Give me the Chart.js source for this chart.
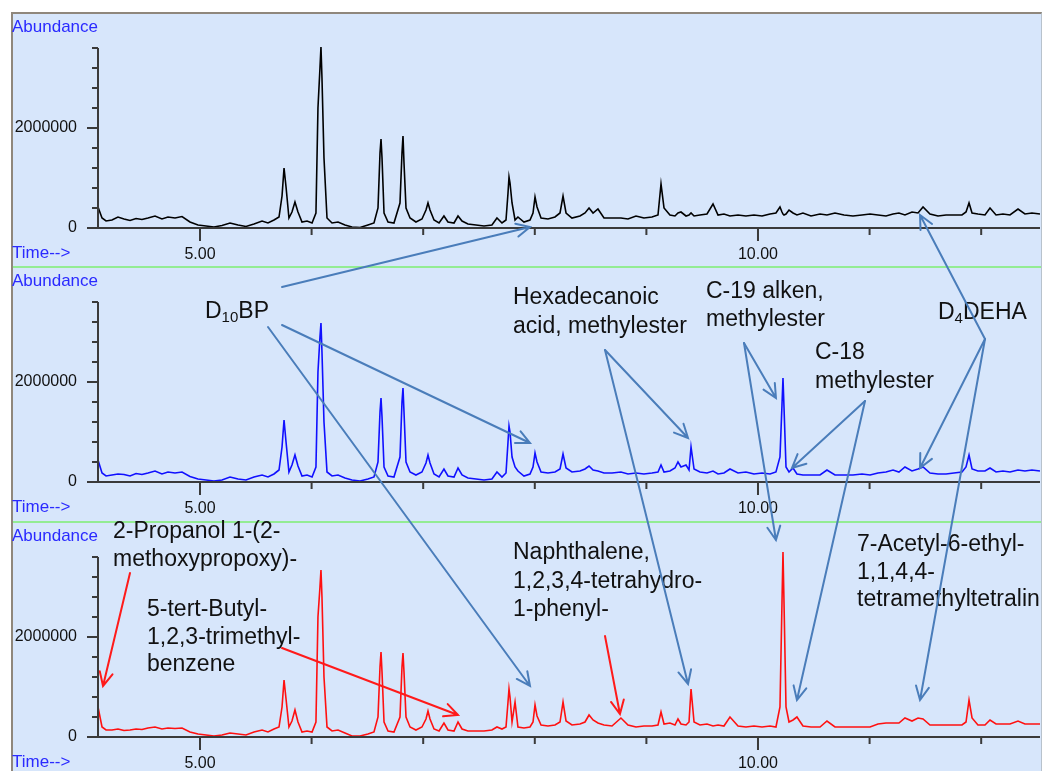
<!DOCTYPE html>
<html>
<head>
<meta charset="utf-8">
<script src="https://cdn.jsdelivr.net/npm/chart.js@4.4.1/dist/chart.umd.min.js"></script>
<style>
  body { margin: 0; background: #fff; }
  #wrap { position: relative; width: 1050px; height: 771px; overflow: hidden; }
  #bg { position: absolute; left: 11px; top: 12px; width: 1028px; height: 759px;
        background: #d7e6fb; border-top: 2px solid #8f877c; border-left: 2px solid #8f877c;
        border-right: 1px solid #b8c2cc; }
  .sep { position: absolute; left: 13px; width: 1028px; height: 2px; background: #93ec93; }
  canvas { position: absolute; left: 0; }
</style>
</head>
<body>
<div id="wrap">
  <div id="bg"></div>
  <div class="sep" style="top:266px"></div>
  <div class="sep" style="top:521px"></div>
  <canvas id="tic1" width="1050" height="268" style="top:0px"></canvas>
  <canvas id="tic2" width="1050" height="268" style="top:254px"></canvas>
  <canvas id="tic3" width="1050" height="268" style="top:509px"></canvas>
  <canvas id="notes" width="1050" height="771" style="top:0px"></canvas>
</div>
<script>
// --- chromatogram data (retention time in min, abundance) ---
const times = [
  4.086, 4.122, 4.158, 4.211, 4.265, 4.319, 4.373, 4.427, 4.480, 4.534,
  4.597, 4.659, 4.713, 4.776, 4.839, 4.910, 4.982, 5.054, 5.125, 5.197,
  5.269, 5.341, 5.412, 5.484, 5.556, 5.609, 5.663, 5.708, 5.735, 5.753,
  5.771, 5.797, 5.824, 5.851, 5.878, 5.914, 5.959, 6.004, 6.039, 6.057,
  6.075, 6.084, 6.093, 6.111, 6.138, 6.183, 6.237, 6.299, 6.362, 6.434,
  6.505, 6.559, 6.595, 6.613, 6.622, 6.631, 6.649, 6.685, 6.738, 6.792,
  6.810, 6.819, 6.828, 6.846, 6.882, 6.935, 6.989, 7.025, 7.043, 7.061,
  7.097, 7.142, 7.186, 7.222, 7.276, 7.312, 7.348, 7.401, 7.473, 7.545,
  7.616, 7.661, 7.706, 7.742, 7.760, 7.769, 7.778, 7.796, 7.823, 7.849,
  7.903, 7.957, 7.984, 8.002, 8.020, 8.056, 8.118, 8.181, 8.226, 8.253,
  8.280, 8.333, 8.405, 8.450, 8.486, 8.522, 8.566, 8.620, 8.692, 8.772,
  8.835, 8.907, 8.978, 9.050, 9.104, 9.131, 9.158, 9.211, 9.256, 9.283,
  9.310, 9.355, 9.382, 9.400, 9.427, 9.480, 9.543, 9.597, 9.642, 9.695,
  9.749, 9.821, 9.892, 9.964, 10.036, 10.108, 10.161, 10.197, 10.215, 10.224,
  10.233, 10.251, 10.278, 10.314, 10.349, 10.403, 10.475, 10.556, 10.618, 10.690,
  10.771, 10.851, 10.932, 11.004, 11.075, 11.147, 11.210, 11.263, 11.317, 11.380,
  11.434, 11.479, 11.541, 11.613, 11.685, 11.756, 11.828, 11.864, 11.891, 11.918,
  11.971, 12.034, 12.079, 12.133, 12.195, 12.258, 12.330, 12.392, 12.455, 12.527
];

const abundanceTop = [
  420000, 200000, 140000, 160000, 220000, 180000, 150000, 190000, 170000, 200000,
  240000, 180000, 220000, 200000, 230000, 120000, 60000, 40000, 20000, 50000,
  100000, 60000, 30000, 80000, 140000, 100000, 160000, 220000, 640000, 1200000,
  820000, 200000, 320000, 520000, 320000, 120000, 140000, 100000, 300000, 2400000,
  3200000, 3620000, 3000000, 1400000, 200000, 100000, 120000, 60000, 20000, 10000,
  60000, 100000, 400000, 1500000, 1780000, 1400000, 300000, 120000, 100000, 500000,
  1500000, 1840000, 1300000, 400000, 200000, 120000, 180000, 360000, 500000, 360000,
  160000, 100000, 240000, 120000, 100000, 240000, 140000, 80000, 60000, 40000,
  60000, 200000, 100000, 160000, 700000, 1020000, 900000, 500000, 160000, 220000,
  120000, 160000, 300000, 620000, 420000, 200000, 180000, 220000, 300000, 640000,
  300000, 200000, 240000, 300000, 400000, 300000, 380000, 200000, 200000, 200000,
  180000, 240000, 200000, 220000, 260000, 880000, 400000, 260000, 240000, 300000,
  320000, 240000, 260000, 300000, 240000, 260000, 280000, 480000, 260000, 280000,
  240000, 260000, 240000, 260000, 240000, 280000, 300000, 420000, 320000, 280000,
  260000, 280000, 360000, 300000, 260000, 300000, 240000, 280000, 260000, 300000,
  260000, 240000, 260000, 280000, 260000, 240000, 280000, 300000, 260000, 320000,
  300000, 420000, 280000, 240000, 260000, 260000, 260000, 320000, 500000, 300000,
  280000, 260000, 400000, 260000, 280000, 260000, 380000, 280000, 300000, 280000
];

const abundanceMid = [
  440000, 180000, 120000, 140000, 160000, 150000, 120000, 170000, 150000, 180000,
  220000, 160000, 200000, 180000, 200000, 110000, 60000, 40000, 20000, 40000,
  100000, 60000, 40000, 100000, 140000, 100000, 160000, 240000, 700000, 1240000,
  800000, 200000, 340000, 540000, 320000, 120000, 140000, 100000, 300000, 2200000,
  2900000, 3180000, 2600000, 1200000, 200000, 120000, 140000, 80000, 40000, 20000,
  60000, 100000, 400000, 1400000, 1680000, 1300000, 300000, 120000, 100000, 500000,
  1600000, 1880000, 1400000, 400000, 200000, 140000, 200000, 380000, 540000, 380000,
  160000, 100000, 260000, 120000, 100000, 280000, 140000, 80000, 60000, 40000,
  60000, 200000, 100000, 180000, 800000, 1120000, 1000000, 500000, 300000, 220000,
  120000, 160000, 300000, 580000, 400000, 200000, 180000, 200000, 260000, 560000,
  280000, 200000, 220000, 260000, 320000, 240000, 220000, 180000, 180000, 200000,
  160000, 180000, 160000, 180000, 200000, 340000, 200000, 220000, 280000, 400000,
  300000, 340000, 240000, 700000, 260000, 200000, 180000, 220000, 160000, 180000,
  260000, 180000, 200000, 160000, 180000, 160000, 200000, 500000, 1540000, 2080000,
  1500000, 300000, 200000, 280000, 160000, 140000, 140000, 140000, 240000, 140000,
  140000, 140000, 160000, 140000, 180000, 200000, 240000, 200000, 300000, 220000,
  260000, 300000, 180000, 160000, 160000, 180000, 200000, 300000, 540000, 260000,
  220000, 220000, 280000, 200000, 220000, 200000, 240000, 220000, 240000, 220000
];

const abundanceLow = [
  600000, 200000, 140000, 140000, 160000, 130000, 140000, 160000, 150000, 180000,
  200000, 160000, 180000, 170000, 180000, 100000, 60000, 40000, 20000, 40000,
  80000, 60000, 40000, 100000, 140000, 100000, 160000, 200000, 600000, 1140000,
  760000, 200000, 320000, 540000, 300000, 100000, 120000, 100000, 300000, 2400000,
  3000000, 3340000, 2800000, 1200000, 200000, 120000, 140000, 80000, 20000, 20000,
  60000, 100000, 400000, 1400000, 1700000, 1300000, 300000, 120000, 100000, 400000,
  1400000, 1680000, 1300000, 400000, 200000, 140000, 200000, 360000, 520000, 360000,
  160000, 120000, 280000, 140000, 120000, 300000, 160000, 120000, 120000, 120000,
  140000, 200000, 160000, 200000, 700000, 960000, 800000, 300000, 700000, 200000,
  180000, 200000, 300000, 640000, 420000, 240000, 220000, 240000, 300000, 700000,
  320000, 240000, 260000, 300000, 440000, 340000, 280000, 240000, 220000, 380000,
  240000, 200000, 220000, 220000, 240000, 500000, 260000, 280000, 240000, 360000,
  260000, 240000, 300000, 960000, 300000, 240000, 260000, 220000, 240000, 220000,
  400000, 220000, 200000, 220000, 200000, 220000, 200000, 600000, 2680000, 3700000,
  2700000, 600000, 300000, 340000, 400000, 220000, 200000, 200000, 320000, 200000,
  200000, 200000, 200000, 200000, 260000, 280000, 280000, 280000, 380000, 320000,
  380000, 360000, 240000, 240000, 240000, 240000, 240000, 300000, 740000, 380000,
  240000, 240000, 340000, 260000, 260000, 260000, 320000, 260000, 260000, 260000
];

const xTicks = [5, 6, 7, 8, 9, 10, 11, 12];
const xTickText = ['5.00', '', '', '', '', '10.00', '', ''];
const yTicks = [0, 400000, 800000, 1200000, 1600000, 2000000, 2400000, 2800000, 3200000, 3600000];
const yTickText = ['0', '', '', '', '', '2000000', '', '', '', ''];
const timeRange = [4.086, 12.527];

const panels = [
  { id: 'tic1', top: 0, values: abundanceTop, color: '#000000' },
  { id: 'tic2', top: 254, values: abundanceMid, color: '#1010ff' },
  { id: 'tic3', top: 509, values: abundanceLow, color: '#ff1010' }
];

// --- annotations: label text + arrow tips given in (panel, time, abundance) ---
const labels = [
  { lines: ['D{10}BP'], x: 205, y: 312, lh: 28 },
  { lines: ['Hexadecanoic', 'acid, methylester'], x: 513, y: 298, lh: 29 },
  { lines: ['C-19 alken,', 'methylester'], x: 706, y: 292, lh: 28 },
  { lines: ['C-18', 'methylester'], x: 815, y: 353, lh: 29 },
  { lines: ['D{4}DEHA'], x: 938, y: 313, lh: 28 },
  { lines: ['2-Propanol 1-(2-', 'methoxypropoxy)-'], x: 113, y: 532, lh: 28 },
  { lines: ['5-tert-Butyl-', '1,2,3-trimethyl-', 'benzene'], x: 147, y: 610, lh: 27.5 },
  { lines: ['Naphthalene,', '1,2,3,4-tetrahydro-', '1-phenyl-'], x: 513, y: 553, lh: 28.5 },
  { lines: ['7-Acetyl-6-ethyl-', '1,1,4,4-', 'tetramethyltetralin'], x: 857, y: 545, lh: 27.5 }
];

const blueArrows = [
  { from: [282, 287], panel: 0, t: 7.957, v: 20000 },
  { from: [282, 325], panel: 1, t: 7.957, v: 780000 },
  { from: [268, 327], panel: 2, t: 7.957, v: 1020000 },
  { from: [605, 350], panel: 1, t: 9.373, v: 880000 },
  { from: [605, 350], panel: 2, t: 9.373, v: 1060000 },
  { from: [744, 343], panel: 1, t: 10.161, v: 1680000 },
  { from: [744, 343], panel: 2, t: 10.161, v: 3940000 },
  { from: [865, 401], panel: 1, t: 10.305, v: 280000 },
  { from: [865, 401], panel: 2, t: 10.349, v: 740000 },
  { from: [985, 339], panel: 0, t: 11.452, v: 260000 },
  { from: [985, 339], panel: 1, t: 11.452, v: 280000 },
  { from: [985, 339], panel: 2, t: 11.452, v: 740000 }
];

const redArrows = [
  { from: [130, 573], panel: 2, t: 4.131, v: 1020000 },
  { from: [282, 648], panel: 2, t: 7.312, v: 440000 },
  { from: [605, 636], panel: 2, t: 8.763, v: 460000 }
];

const axisColor = '#3a3a3a';
const tickFont = { family: 'Liberation Sans, Arial, sans-serif', size: 16 };

// axis lines, tick marks and the blue captions
const chromAxes = {
  id: 'chromAxes',
  afterDraw(chart) {
    const ctx = chart.ctx;
    const xs = chart.scales.x, ys = chart.scales.y;
    const a = chart.chartArea;
    ctx.save();
    ctx.strokeStyle = axisColor;
    ctx.lineWidth = 2;
    ctx.beginPath();
    ctx.moveTo(a.left - 11, a.bottom);
    ctx.lineTo(a.right, a.bottom);
    ctx.moveTo(a.left, ys.getPixelForValue(yTicks[yTicks.length - 1]));
    ctx.lineTo(a.left, a.bottom);
    yTicks.forEach((v, i) => {
      const y = ys.getPixelForValue(v);
      ctx.moveTo(a.left - (yTickText[i] ? 11 : 6), y);
      ctx.lineTo(a.left, y);
    });
    xTicks.forEach((v, i) => {
      const x = xs.getPixelForValue(v);
      ctx.moveTo(x, a.bottom);
      ctx.lineTo(x, a.bottom + (xTickText[i] ? 13 : 7));
    });
    ctx.stroke();

    ctx.fillStyle = '#2a2aff';
    ctx.font = '17px Liberation Sans, Arial, sans-serif';
    ctx.textBaseline = 'middle';
    ctx.textAlign = 'left';
    ctx.fillText('Abundance', 12, 27);
    ctx.fillText('Time-->', 12, 253);
    ctx.restore();
  }
};

const charts = panels.map(p => new Chart(document.getElementById(p.id), {
  type: 'line',
  data: {
    datasets: [{
      data: times.map((t, i) => ({ x: t, y: p.values[i] })),
      borderColor: p.color,
      borderWidth: 1.6,
      pointRadius: 0,
      tension: 0,
      clip: false
    }]
  },
  options: {
    responsive: false,
    animation: false,
    events: [],
    layout: { padding: { top: 48, right: 10, left: 0, bottom: 0 } },
    plugins: { legend: { display: false }, tooltip: { enabled: false } },
    scales: {
      x: {
        type: 'linear',
        min: timeRange[0],
        max: timeRange[1],
        afterBuildTicks: s => { s.ticks = xTicks.map(v => ({ value: v })); },
        afterFit: s => { s.height = 40; },
        grid: { display: false, drawTicks: false },
        border: { display: false },
        ticks: {
          autoSkip: false, maxRotation: 0, padding: 17,
          color: '#111', font: tickFont,
          callback: v => xTickText[xTicks.indexOf(v)] || ''
        }
      },
      y: {
        min: 0,
        max: 3600000,
        afterBuildTicks: s => { s.ticks = yTicks.map(v => ({ value: v })); },
        afterFit: s => { s.width = 98; },
        grid: { display: false, drawTicks: false },
        border: { display: false },
        ticks: {
          autoSkip: false, padding: 21,
          color: '#111', font: tickFont,
          callback: v => yTickText[yTicks.indexOf(v)] || ''
        }
      }
    }
  },
  plugins: [chromAxes]
}));

// --- overlay with compound names and arrows ---
function tipPoint(a) {
  const c = charts[a.panel];
  return [c.scales.x.getPixelForValue(a.t), panels[a.panel].top + c.scales.y.getPixelForValue(a.v)];
}

function drawArrow(ctx, from, to, color) {
  const ang = Math.atan2(to[1] - from[1], to[0] - from[0]);
  const h = 15, s = 0.45;
  ctx.strokeStyle = color;
  ctx.lineWidth = 2;
  ctx.lineCap = 'round';
  ctx.beginPath();
  ctx.moveTo(from[0], from[1]);
  ctx.lineTo(to[0], to[1]);
  ctx.moveTo(to[0] - h * Math.cos(ang - s), to[1] - h * Math.sin(ang - s));
  ctx.lineTo(to[0], to[1]);
  ctx.lineTo(to[0] - h * Math.cos(ang + s), to[1] - h * Math.sin(ang + s));
  ctx.stroke();
}

// text with {..} parts drawn as subscript
function drawRich(ctx, text, x, y) {
  const parts = text.split(/(\{[^}]*\})/).filter(s => s);
  parts.forEach(part => {
    if (part[0] === '{') {
      const sub = part.slice(1, -1);
      ctx.font = '15px Liberation Sans, Arial, sans-serif';
      ctx.fillText(sub, x, y + 6);
      x += ctx.measureText(sub).width;
    } else {
      ctx.font = '23px Liberation Sans, Arial, sans-serif';
      ctx.fillText(part, x, y);
      x += ctx.measureText(part).width;
    }
  });
}

const notes = document.getElementById('notes').getContext('2d');
notes.save();
notes.beginPath();
notes.rect(13, 14, 1028, 757);
notes.clip();
notes.fillStyle = '#111';
notes.textBaseline = 'middle';
labels.forEach(l => {
  l.lines.forEach((line, i) => drawRich(notes, line, l.x, l.y + i * l.lh));
});
blueArrows.forEach(a => drawArrow(notes, a.from, tipPoint(a), '#4a7dba'));
redArrows.forEach(a => drawArrow(notes, a.from, tipPoint(a), '#ff1a1a'));
notes.restore();
</script>
</body>
</html>
